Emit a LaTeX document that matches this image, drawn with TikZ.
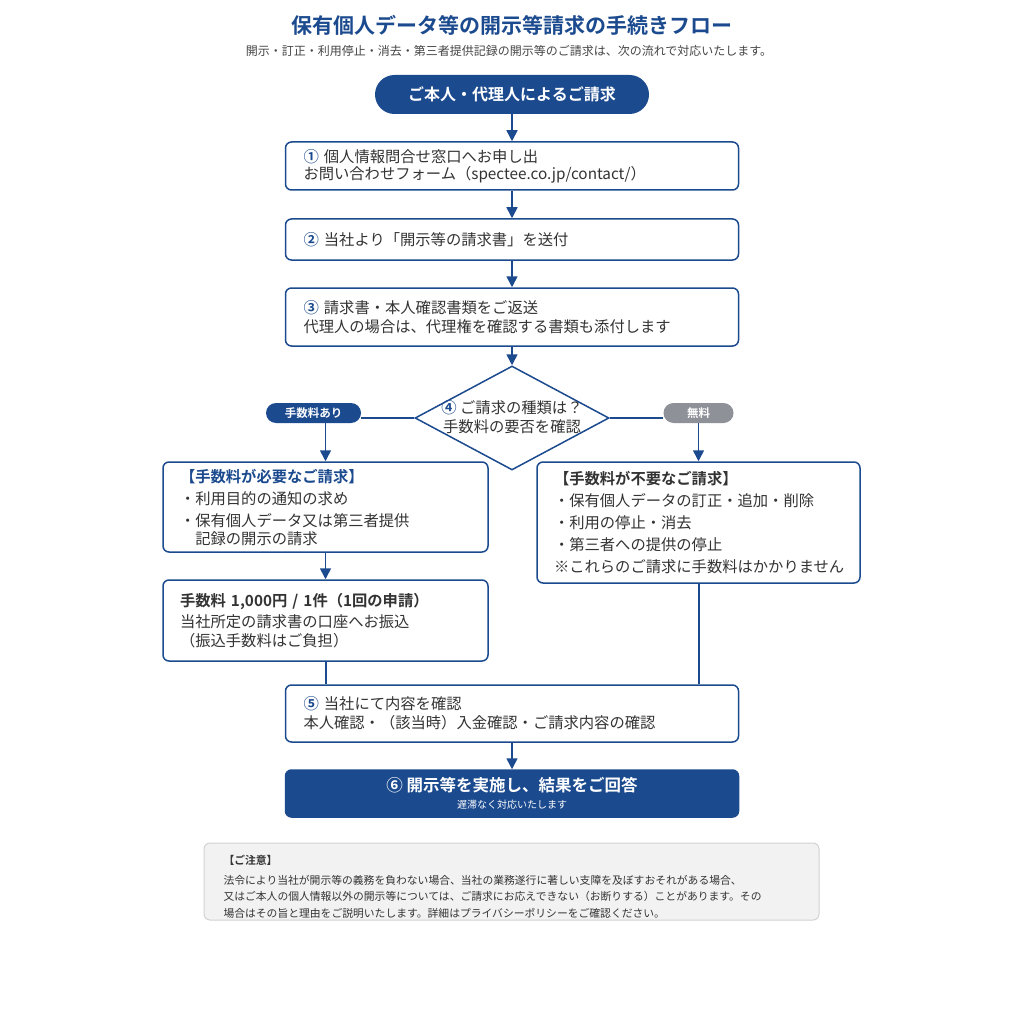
\documentclass[tikz,border=0pt]{standalone}
\usepackage{fontspec}
\setmainfont{Noto Sans CJK JP}[BoldFont={Noto Sans CJK JP Bold}]
\usetikzlibrary{shapes.geometric,arrows.meta}
\definecolor{navy}{HTML}{1B4A8E}
\definecolor{txt}{HTML}{333333}
\definecolor{subtxt}{HTML}{444444}
\definecolor{pillgray}{HTML}{8E9198}
\definecolor{notefill}{HTML}{F2F2F2}
\definecolor{noteline}{HTML}{D2D2D2}
\newcommand\cnum[1]{\textcolor{navy}{\bfseries #1}}
\tikzset{
  stepbox/.style={draw=navy, line width=1.5pt, rounded corners=6pt, fill=white,
    text=txt, align=left, inner ysep=3pt, font=\fontsize{15.3}{19}\selectfont},
  arr/.style={draw=navy, line width=1.6pt, -{Triangle[width=11pt,length=11pt]}},
  conn/.style={draw=navy, line width=2pt},
  pill/.style={rounded corners=10pt, minimum height=20pt, inner sep=0pt,
    text=white, font=\bfseries\fontsize{11.5}{13}\selectfont},
}
\begin{document}
\begin{tikzpicture}[x=1pt,y=-1pt]
\useasboundingbox (0,0) rectangle (1024,1024);
% title
\node[text=navy, font=\bfseries\fontsize{21}{25}\selectfont] (title) at (512,25) {保有個人データ等の開示等請求の手続きフロー};
\node[text=subtxt, font=\fontsize{12}{14}\selectfont] (subtitle) at (509,51) {開示・訂正・利用停止・消去・第三者提供記録の開示等のご請求は、次の流れで対応いたします。};
% start
\node[fill=navy, rounded corners=19.5pt, minimum width=274pt, minimum height=39pt, inner sep=0pt,
  text=white, font=\bfseries\fontsize{16}{19}\selectfont] (start) at (512,94.5) {ご本人・代理人によるご請求};
% steps
\node[stepbox, text width=417pt, inner xsep=18pt, minimum height=48pt] (b1) at (512,166)
  {\cnum{①} 個人情報問合せ窓口へお申し出\\[-2pt]お問い合わせフォーム（spectee.co.jp/contact/）};
\node[stepbox, text width=417pt, inner xsep=18pt, minimum height=41pt] (b2) at (512,239.5)
  {\cnum{②} 当社より「開示等の請求書」を送付};
\node[stepbox, text width=417pt, inner xsep=18pt, minimum height=58pt] (b3) at (512,317)
  {\cnum{③} 請求書・本人確認書類をご返送\\代理人の場合は、代理権を確認する書類も添付します};
% decision
\node[diamond, draw=navy, line width=1.5pt, fill=white, minimum width=194pt, minimum height=104pt, inner sep=0pt] (dia) at (512,418) {};
\node[text=txt, align=center, font=\fontsize{15.3}{19}\selectfont] (diatext) at (512,417.5) {\cnum{④} ご請求の種類は？\\手数料の要否を確認};
% branch labels
\draw[conn] (dia.west) -- (dia.west -| 361,0);
\draw[conn] (dia.east) -- (dia.east -| 663,0);
\node[pill, fill=navy, minimum width=95pt] (pillL) at (313.5,413) {手数料あり};
\node[pill, fill=pillgray, minimum width=70pt] (pillR) at (698.5,413) {無料};
% left branch
\node[stepbox, text width=291pt, inner xsep=17pt, minimum height=90pt] (lbox) at (325.5,507)
  {{\bfseries\textcolor{navy}{【手数料が必要なご請求】}}\\[3pt]・利用目的の通知の求め\\[3pt]・保有個人データ又は第三者提供\\[-1pt]\hspace*{1em}記録の開示の請求};
\node[stepbox, text width=291pt, inner xsep=17pt, minimum height=81pt] (fee) at (325.5,620.5)
  {{\bfseries 手数料 1,000円 / 1件（1回の申請）}\\[2pt]当社所定の請求書の口座へお振込\\（振込手数料はご負担）};
% right branch
\node[stepbox, text width=289pt, inner xsep=17pt, minimum height=121pt] (rbox) at (698.5,522.5)
  {{\bfseries 【手数料が不要なご請求】}\\[3pt]・保有個人データの訂正・追加・削除\\[3pt]・利用の停止・消去\\[3pt]・第三者への提供の停止\\[3pt]※これらのご請求に手数料はかかりません};
% merge
\node[stepbox, text width=417pt, inner xsep=18pt, minimum height=57pt] (b5) at (512,713.5)
  {\cnum{⑤} 当社にて内容を確認\\本人確認・（該当時）入金確認・ご請求内容の確認};
\node[draw=navy, fill=navy, line width=1.5pt, rounded corners=6pt, minimum width=453pt, minimum height=47pt,
  inner sep=0pt, align=center, text=white] (b6) at (512,793.5)
  {{\bfseries\fontsize{16.5}{19}\selectfont ⑥ 開示等を実施し、結果をご回答}\\[5pt]{\fontsize{10}{12}\selectfont 遅滞なく対応いたします}};
% connectors
\draw[arr] (start.south) -- (b1.north);
\draw[arr] (b1.south) -- (b2.north);
\draw[arr] (b2.south) -- (b3.north);
\draw[arr] (b3.south) -- (dia.north);
\draw[arr] (lbox.north |- pillL.south) -- (lbox.north);
\draw[arr] (pillR.south) -- (rbox.north);
\draw[arr] (lbox.south) -- (fee.north);
\draw[conn] (fee.south) -- (fee.south |- b5.north);
\draw[conn] (rbox.south) -- (rbox.south |- b5.north);
\draw[arr] (b5.south) -- (b6.north);
% note
\node[draw=noteline, fill=notefill, line width=1pt, rounded corners=6pt, minimum width=615pt, minimum height=77pt] (note) at (511.5,881.5) {};
\node[anchor=west, align=left, text=txt, font=\fontsize{10.8}{16.5}\selectfont] (notetext) at (220,886.5)
  {{\bfseries 【ご注意】}\\[3.5pt]法令により当社が開示等の義務を負わない場合、当社の業務遂行に著しい支障を及ぼすおそれがある場合、\\又はご本人の個人情報以外の開示等については、ご請求にお応えできない（お断りする）ことがあります。その\\場合はその旨と理由をご説明いたします。詳細はプライバシーポリシーをご確認ください。};
\end{tikzpicture}
\end{document}
